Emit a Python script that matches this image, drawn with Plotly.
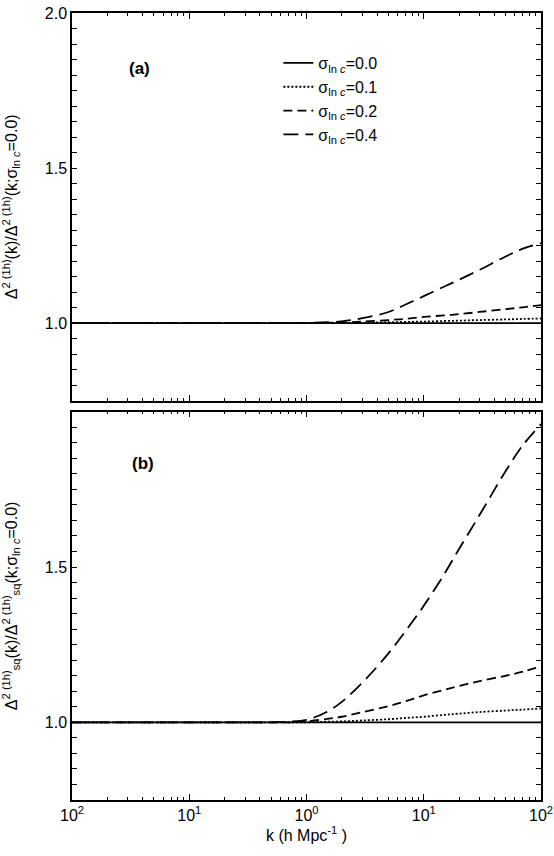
import plotly.graph_objects as go

# ---------------- data ----------------
k = [0.01, 0.1, 0.5, 0.7, 1.0, 1.5, 2, 3, 5, 7, 10, 15, 20, 30, 50, 70, 100]

sigma_labels = ["0.0", "0.1", "0.2", "0.4"]

# panel (a): Delta^2(1h)(k) / Delta^2(1h)(k; sigma=0)
a_s00 = [1.0] * len(k)
a_s01 = [1.0, 1.0, 1.0, 1.0, 1.0, 1.0, 1.0005, 1.001, 1.003, 1.004, 1.005, 1.007, 1.008, 1.010, 1.012, 1.0135, 1.015]
a_s02 = [1.0, 1.0, 1.0, 1.0, 1.0, 1.001, 1.002, 1.005, 1.010, 1.014, 1.020, 1.025, 1.029, 1.036, 1.045, 1.051, 1.058]
a_s04 = [1.0, 1.0, 1.0, 1.0, 1.001, 1.003, 1.006, 1.016, 1.036, 1.060, 1.087, 1.118, 1.140, 1.172, 1.215, 1.240, 1.258]

# panel (b): Delta^2(1h)_sq(k) / Delta^2(1h)_sq(k; sigma=0)
b_s00 = [1.0] * len(k)
b_s01 = [1.0, 1.0, 1.0, 1.0, 1.0, 1.002, 1.003, 1.006, 1.010, 1.014, 1.018, 1.024, 1.028, 1.033, 1.038, 1.041, 1.045]
b_s02 = [1.0, 1.0, 1.0, 1.0, 1.003, 1.011, 1.018, 1.033, 1.052, 1.068, 1.087, 1.105, 1.117, 1.133, 1.150, 1.163, 1.180]
b_s04 = [1.0, 1.0, 1.0, 1.002, 1.008, 1.034, 1.066, 1.128, 1.222, 1.294, 1.375, 1.478, 1.558, 1.668, 1.809, 1.892, 1.960]

x_tickvals = [0.01, 0.1, 1, 10, 100]
x_ticktext = ["10<sup>2</sup>", "10<sup>1</sup>", "10<sup>0</sup>", "10<sup>1</sup>", "10<sup>2</sup>"]
x_minor = [m * d for d in [0.01, 0.1, 1, 10] for m in range(2, 10)]

y_tickvals = [round(0.75 + 0.05 * i, 2) for i in range(26)]
y_ticktext_a = ["1.0" if v == 1.0 else "1.5" if v == 1.5 else "2.0" if v == 2.0 else "" for v in y_tickvals]
y_ticktext_b = ["1.0" if v == 1.0 else "1.5" if v == 1.5 else "" for v in y_tickvals]

# ---------------- styling ----------------
FONT = "Liberation Sans, Arial, Helvetica, sans-serif"
dashes = ["solid", "2px,2px", "9px,5px", "15px,7px"]
widths = [1.8, 1.8, 1.8, 1.8]

fig = go.Figure()

series_a = [a_s00, a_s01, a_s02, a_s04]
series_b = [b_s00, b_s01, b_s02, b_s04]

for i, (lab, ya) in enumerate(zip(sigma_labels, series_a)):
    fig.add_trace(go.Scatter(
        x=k, y=ya, mode="lines", line_shape="spline",
        line=dict(color="black", width=widths[i], dash=dashes[i]),
        name="σ<sub>ln <i>c</i></sub>=" + lab,
        xaxis="x", yaxis="y", showlegend=True))

for i, (lab, yb) in enumerate(zip(sigma_labels, series_b)):
    fig.add_trace(go.Scatter(
        x=k, y=yb, mode="lines", line_shape="spline",
        line=dict(color="black", width=widths[i], dash=dashes[i]),
        name="σ<sub>ln <i>c</i></sub>=" + lab,
        xaxis="x2", yaxis="y2", showlegend=False))

common_x = dict(
    type="log", range=[-2, 2], showline=True, linecolor="black", linewidth=1.5,
    mirror="ticks", ticks="inside", ticklen=6, tickcolor="black", tickwidth=1,
    tickvals=x_tickvals, showgrid=False, zeroline=False, automargin=False,
    minor=dict(ticks="inside", ticklen=3, tickcolor="black", tickwidth=1, tickvals=x_minor, showgrid=False),
)
common_y = dict(
    range=[0.75, 2.0], showline=True, linecolor="black", linewidth=1.5,
    mirror="ticks", ticks="inside", ticklen=5, tickcolor="black", tickwidth=1,
    tickvals=y_tickvals, showgrid=False, zeroline=False, automargin=False,
    tickfont=dict(size=16, family=FONT, color="black"),
)

fig.update_layout(
    width=554, height=856,
    margin=dict(l=72, r=13, t=13, b=56),
    paper_bgcolor="white", plot_bgcolor="white",
    font=dict(family=FONT, size=16, color="black"),
    xaxis=dict(common_x, domain=[0, 1], anchor="y", showticklabels=False),
    yaxis=dict(common_y, domain=[0.5074, 1.0], anchor="x", ticktext=y_ticktext_a,
               title=dict(text="Δ<sup>2 (1h)</sup>(k)/Δ<sup>2 (1h)</sup>(k;σ<sub>ln <i>c</i></sub>=0.0)",
                          font=dict(size=16, family=FONT), standoff=26)),
    xaxis2=dict(common_x, domain=[0, 1], anchor="y2", ticktext=x_ticktext,
                tickfont=dict(size=16, family=FONT, color="black"),
                title=dict(text="k (h Mpc<sup>-1</sup> )", font=dict(size=16, family=FONT), standoff=0)),
    yaxis2=dict(common_y, domain=[0.0, 0.4934], anchor="x2", ticktext=y_ticktext_b,
                title=dict(text="Δ<sup>2 (1h)</sup><sub>sq</sub>(k)/Δ<sup>2 (1h)</sup><sub>sq</sub>(k;σ<sub>ln <i>c</i></sub>=0.0)",
                           font=dict(size=16, family=FONT), standoff=26)),
    legend=dict(x=0.44, y=0.958, xanchor="left", yanchor="top",
                bgcolor="rgba(0,0,0,0)", borderwidth=0,
                font=dict(size=16, family=FONT), tracegroupgap=0),
    annotations=[
        dict(text="<b>(a)</b>", xref="x domain", yref="y domain", x=0.143, y=0.858,
             xanchor="center", yanchor="middle",
             showarrow=False, font=dict(size=17, family=FONT)),
        dict(text="<b>(b)</b>", xref="x2 domain", yref="y2 domain", x=0.152, y=0.866,
             xanchor="center", yanchor="middle",
             showarrow=False, font=dict(size=17, family=FONT)),
    ],
)

fig.write_html("out.html", config={"displayModeBar": False},
               post_script="document.body.style.margin='0';")
